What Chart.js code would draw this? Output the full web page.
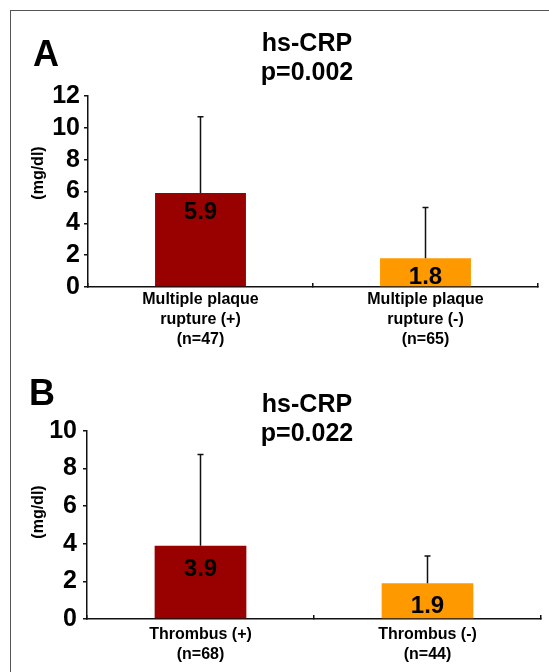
<!DOCTYPE html>
<html>
<head>
<meta charset="utf-8">
<script src="https://cdn.jsdelivr.net/npm/chart.js@4.4.1/dist/chart.umd.min.js"></script>
<style>
  html, body { margin: 0; padding: 0; background: #fff; }
  body { width: 549px; height: 672px; position: relative; overflow: hidden;
         font-family: "Liberation Sans", Arial, sans-serif; font-weight: bold; color: #000; }
  .frame { position: absolute; left: 10px; top: 10px; width: 700px; height: 800px;
           border-left: 1px solid #555; border-top: 1px solid #555; }
  .panel { position: absolute; left: 0; width: 549px; }
  .letter { position: absolute; font-size: 36px; line-height: 36px; }
  .title { position: absolute; width: 200px; text-align: center; font-size: 25px; line-height: 29px; }
  .ylab { position: absolute; font-size: 16px; line-height: 16px; white-space: nowrap;
          transform: translate(-50%, -50%) rotate(-90deg); }
</style>
</head>
<body>
<div class="frame"></div>

<div class="panel" style="top:0;height:360px"><canvas id="chartA" width="549" height="360"></canvas></div>
<div class="panel" style="top:360px;height:312px"><canvas id="chartB" width="549" height="312"></canvas></div>

<div class="letter" style="left:33px;top:35.5px">A</div>
<div class="title" style="left:207px;top:27.5px">hs-CRP<br>p=0.002</div>
<div class="ylab" style="left:38px;top:173px">(mg/dl)</div>

<div class="letter" style="left:29px;top:374.5px">B</div>
<div class="title" style="left:207px;top:388.5px">hs-CRP<br>p=0.022</div>
<div class="ylab" style="left:38px;top:512px">(mg/dl)</div>

<script>
// Panel A - multiple plaque rupture
const catsA = [['Multiple plaque', 'rupture (+)', '(n=47)'], ['Multiple plaque', 'rupture (-)', '(n=65)']];
const meansA = [5.9, 1.8];
const sdA = [4.8, 3.2];
const yMaxA = 12;

// Panel B - thrombus
const catsB = [['Thrombus (+)', '(n=68)'], ['Thrombus (-)', '(n=44)']];
const meansB = [3.9, 1.9];
const sdB = [4.85, 1.45];
const yMaxB = 10;

const barColors = ['#990000', '#ff9900'];
const FONT = '"Liberation Sans", Arial, sans-serif';

// error bars (upper only) + value labels inside the bars
const barExtras = {
    id: 'barExtras',
    afterDatasetsDraw(chart, args, opts) {
        const ctx = chart.ctx;
        const yScale = chart.scales.y;
        const ds = chart.data.datasets[0];
        ctx.save();
        chart.getDatasetMeta(0).data.forEach((bar, i) => {
            const top = yScale.getPixelForValue(ds.data[i] + opts.sd[i]);
            ctx.strokeStyle = '#111';
            ctx.lineWidth = 1.5;
            ctx.beginPath();
            ctx.moveTo(bar.x, bar.y);
            ctx.lineTo(bar.x, top);
            ctx.moveTo(bar.x - 3, top);
            ctx.lineTo(bar.x + 3, top);
            ctx.stroke();

            ctx.fillStyle = '#000';
            ctx.font = 'bold 24px ' + FONT;
            ctx.textAlign = 'center';
            ctx.textBaseline = 'alphabetic';
            ctx.fillText(ds.data[i].toFixed(1), bar.x, bar.y + opts.labelOffset);
        });
        ctx.restore();
    }
};

function makeChart(id, cats, means, sd, yMax, o) {
    return new Chart(document.getElementById(id), {
        type: 'bar',
        data: {
            labels: cats,
            datasets: [{
                data: means,
                backgroundColor: barColors,
                borderWidth: 0,
                categoryPercentage: 1,
                barPercentage: 0.404
            }]
        },
        options: {
            responsive: false,
            animation: false,
            devicePixelRatio: 1,
            layout: { padding: { top: o.top, right: o.right, left: 0, bottom: 0 } },
            plugins: {
                legend: { display: false },
                tooltip: { enabled: false },
                barExtras: { sd: sd, labelOffset: o.labelOffset }
            },
            scales: {
                x: {
                    grid: { display: true, offset: true, drawOnChartArea: false, drawTicks: true,
                            tickLength: -4, color: '#111', lineWidth: 1.5 },
                    border: { display: true, color: '#111', width: 1.5 },
                    ticks: { color: '#000', maxRotation: 0, autoSkip: false, padding: o.xPad,
                             font: { family: FONT, size: 16, weight: 'bold', lineHeight: 1.25 } },
                    afterFit: s => { s.height = o.xHeight; }
                },
                y: {
                    min: 0,
                    max: yMax,
                    grid: { drawOnChartArea: false, tickLength: 4, color: '#111', lineWidth: 1.5 },
                    border: { display: true, color: '#111', width: 1.5 },
                    ticks: { stepSize: 2, autoSkip: false, color: '#000', padding: o.yPad,
                             font: { family: FONT, size: 25, weight: 'bold' } },
                    afterFit: s => { s.width = o.yWidth; }
                }
            }
        },
        plugins: [barExtras]
    });
}

makeChart('chartA', catsA, meansA, sdA, yMaxA,
    { top: 96, right: 11, xHeight: 73, yWidth: 88, xPad: 7, yPad: 4, labelOffset: 26 });
makeChart('chartB', catsB, meansB, sdB, yMaxB,
    { top: 71, right: 8, xHeight: 53, yWidth: 87, xPad: 10, yPad: 6, labelOffset: 30 });
</script>
</body>
</html>
